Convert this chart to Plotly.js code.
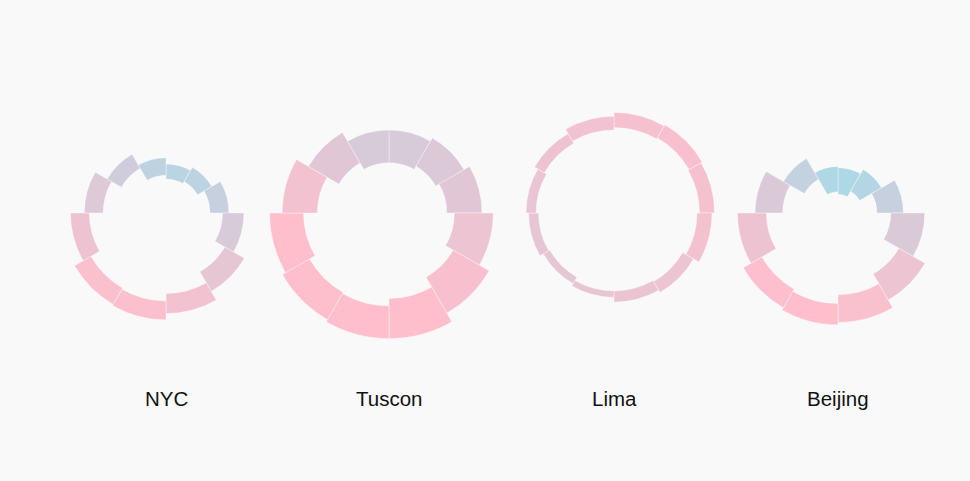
<!DOCTYPE html>
<html>
<head>
<meta charset="utf-8">
<script src="https://cdn.plot.ly/plotly-3.0.1.min.js"></script>
<style>
  html, body { margin: 0; padding: 0; background: #f9f9f9; }
  #chart { width: 970px; height: 481px; }
</style>
</head>
<body>
<div id="chart"></div>
<script>
// Monthly average high / low temperatures (°F)
const months = ['Jan','Feb','Mar','Apr','May','Jun','Jul','Aug','Sep','Oct','Nov','Dec'];
const cities = ['NYC','Tuscon','Lima','Beijing'];

const nycHigh = [39, 42, 50, 62, 72, 80, 85, 84, 76, 65, 54, 44];
const nycLow  = [27, 29, 35, 45, 54, 64, 70, 69, 61, 50, 41, 30];

const tusconHigh = [66, 69, 74, 83, 92, 100, 100, 98, 95, 85, 74, 66];
const tusconLow  = [40, 43, 46, 52, 59, 68, 74, 73, 68, 57, 46, 40];

const limaHigh = [80, 81, 80, 78, 73, 71, 67, 65, 68, 70, 73, 77];
const limaLow  = [68, 69, 68, 66, 63, 62, 62, 59, 60, 62, 64, 66];

const beijingHigh = [36, 40, 52, 69, 80, 87, 89, 87, 80, 66, 50, 37];
const beijingLow  = [15, 20, 31, 42, 56, 65, 72, 70, 57, 44, 31, 17];

const highs = [nycHigh, tusconHigh, limaHigh, beijingHigh];
const lows  = [nycLow, tusconLow, limaLow, beijingLow];

// colour scale: average temperature, lightblue -> pink (clamped)
const cold = [173, 216, 230];
const hot  = [255, 190, 204];
const colorDomain = [25, 80];
const avgs = highs.map((h, i) => h.map((v, j) => (v + lows[i][j]) / 2));
function colorFor(a) {
  let t = (a - colorDomain[0]) / (colorDomain[1] - colorDomain[0]);
  t = Math.max(0, Math.min(1, t));
  const c = cold.map((v, k) => Math.round(v + (hot[k] - v) * t));
  return 'rgb(' + c.join(',') + ')';
}

// layout geometry (pixels)
const W = 970, H = 481;
const centersX = [166, 389, 614, 838];
const centerY = 213;
const rMaxVal = 105;
const pxPerUnit = 1.257;
const R = rMaxVal * pxPerUnit;

const traces = [];
const layout = {
  width: W, height: H,
  margin: {l: 0, r: 0, t: 0, b: 0},
  paper_bgcolor: '#f9f9f9',
  plot_bgcolor: '#f9f9f9',
  showlegend: false,
  annotations: []
};

cities.forEach((name, i) => {
  const key = i === 0 ? 'polar' : 'polar' + (i + 1);
  traces.push({
    type: 'barpolar',
    subplot: key,
    theta: months,
    r: highs[i].map((h, j) => h - lows[i][j]),
    base: lows[i],
    marker: {
      color: avgs[i].map(colorFor),
      line: {color: 'rgba(255,255,255,0.6)', width: 0.6}
    },
    hoverinfo: 'skip'
  });
  const cx = centersX[i];
  layout[key] = {
    domain: {
      x: [(cx - R) / W, (cx + R) / W],
      y: [1 - (centerY + R) / H, 1 - (centerY - R) / H]
    },
    bgcolor: 'rgba(0,0,0,0)',
    hole: 0,
    bargap: 0,
    radialaxis: {range: [0, rMaxVal], visible: false, showgrid: false, showline: false, showticklabels: false, ticks: ''},
    angularaxis: {type: 'category', categoryarray: months, rotation: 75, direction: 'clockwise',
                  visible: false, showgrid: false, showline: false, showticklabels: false, ticks: ''}
  };
  layout.annotations.push({
    text: name,
    xref: 'paper', yref: 'paper',
    x: cx / W, y: 1 - 398 / H,
    xanchor: 'center', yanchor: 'middle',
    showarrow: false,
    font: {family: 'Liberation Sans, Arial, sans-serif', size: 20.5, color: '#111111'}
  });
});

Plotly.newPlot('chart', traces, layout, {displayModeBar: false, staticPlot: true});
</script>
</body>
</html>
